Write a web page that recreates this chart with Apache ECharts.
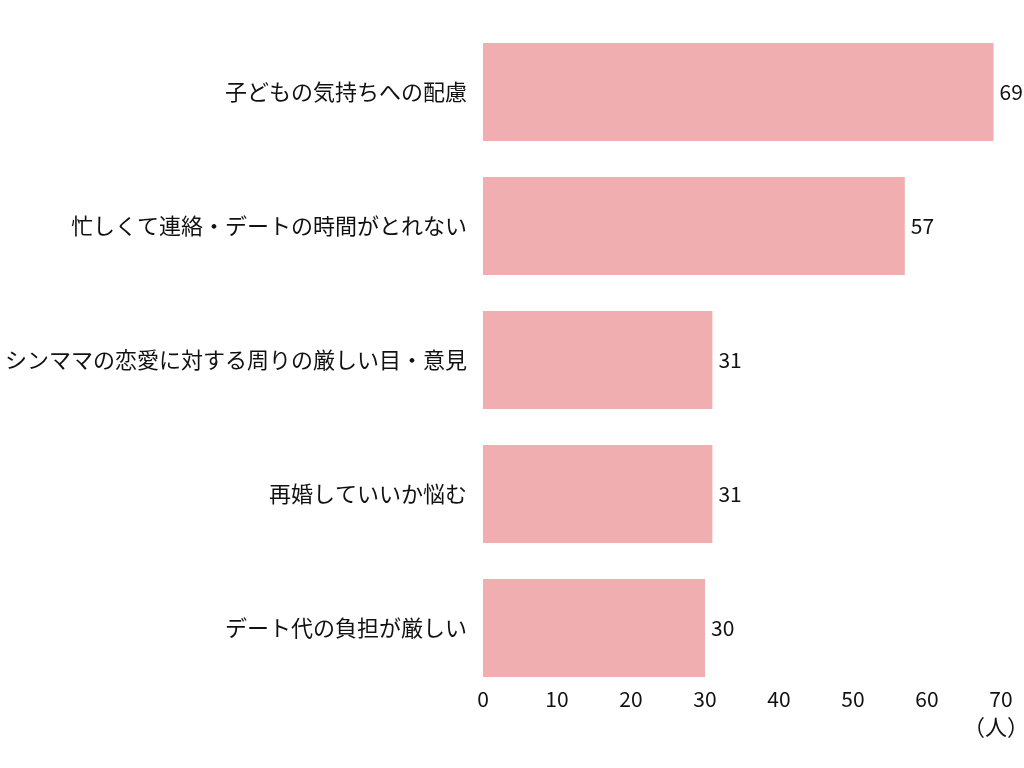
<!DOCTYPE html>
<html>
<head>
<meta charset="utf-8">
<script src="https://cdn.jsdelivr.net/npm/echarts@6/dist/echarts.min.js"></script>
<style>html,body{margin:0;padding:0;background:#fff}#c{width:1024px;height:768px}</style>
</head>
<body>
<div id="c"></div>
<script>
const categories = [
  "子どもの気持ちへの配慮",
  "忙しくて連絡・デートの時間がとれない",
  "シンママの恋愛に対する周りの厳しい目・意見",
  "再婚していいか悩む",
  "デート代の負担が厳しい"
];
const values = [69, 57, 31, 31, 30];
const xTicks = [0, 10, 20, 30, 40, 50, 60, 70];
const unitLabel = "（人）";

const font = '"Noto Sans CJK JP", "Noto Sans", sans-serif';
const chart = echarts.init(document.getElementById('c'));
chart.setOption({
  animation: false,
  grid: { left: 483, right: 23, top: 25, bottom: 73, containLabel: false, outerBoundsMode: 'none' },
  xAxis: {
    type: 'value',
    min: xTicks[0],
    max: xTicks[xTicks.length - 1],
    interval: 10,
    axisLine: { show: false },
    axisTick: { show: false },
    splitLine: { show: false },
    axisLabel: { fontSize: 21, color: '#111', fontFamily: font, margin: -6 },
    name: unitLabel,
    nameLocation: 'end',
    nameGap: 0,
    nameTextStyle: { fontSize: 22, color: '#111', fontFamily: font, align: 'right', verticalAlign: 'top', padding: [21, -28, 0, 0] }
  },
  yAxis: {
    type: 'category',
    data: categories,
    inverse: true,
    axisLine: { show: false },
    axisTick: { show: false },
    axisLabel: { fontSize: 22, color: '#111', fontFamily: font, margin: 16 }
  },
  series: [{
    type: 'bar',
    data: values,
    barCategoryGap: '27%',
    itemStyle: { color: '#f0aeb0' },
    label: { show: true, position: 'right', distance: 6, fontSize: 21, color: '#111', fontFamily: font }
  }]
});
</script>
</body>
</html>
